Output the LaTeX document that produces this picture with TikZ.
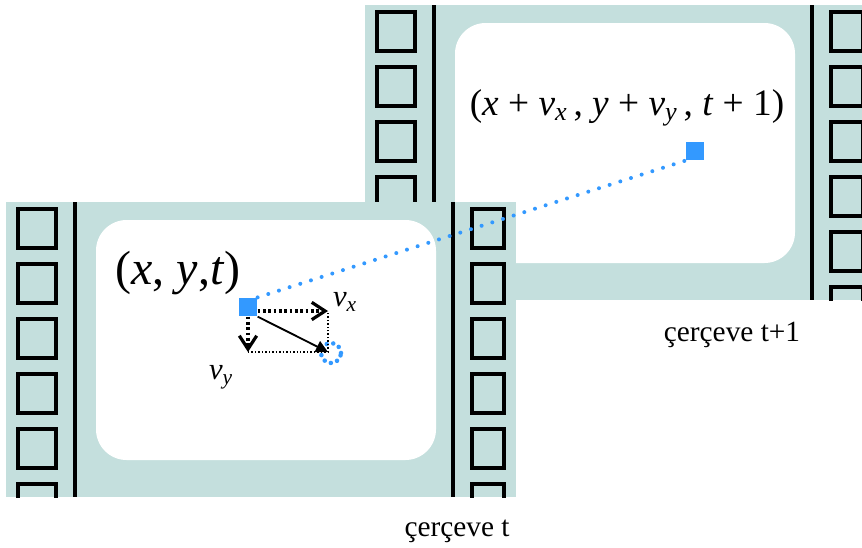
\documentclass[tikz,border=0pt]{standalone}
\usepackage{fontspec}
\setmainfont{Liberation Serif}
\usepackage{xcolor}
\usetikzlibrary{arrows.meta,positioning,calc}
\definecolor{filmteal}{HTML}{C4DFDD}
\definecolor{pixblue}{HTML}{3399FF}
\tikzset{
  filmbase/.style={fill=filmteal},
  filmhole/.style={draw=black, line width=3pt},
  filmedge/.style={draw=black, line width=3.4pt},
  screenbox/.style={fill=white, rounded corners=23pt},
  pixelbox/.style={rectangle, fill=pixblue, minimum size=14pt, inner sep=0pt},
  trackline/.style={draw=pixblue, line width=3pt,
    dash pattern=on 0pt off 8.4pt, line cap=round},
  compvec/.style={line width=2.6pt, dash pattern=on 2pt off 2pt,
    -{Straight Barb[length=10pt, width=13pt, line width=2.4pt]}},
  guideline/.style={line width=1.1pt, dash pattern=on 1.1pt off 1.5pt},
  flowvec/.style={line width=1.4pt, -{Triangle[length=9pt, width=9pt]}},
  landing/.style={circle, draw=pixblue, line width=3.4pt,
    dash pattern=on 0pt off 5pt, line cap=round,
    minimum size=15pt, inner sep=0pt},
  framelabel/.style={font=\fontsize{22}{26}\selectfont, inner sep=0pt},
  coordlabel/.style={font=\fontsize{#1}{#1}\selectfont, inner sep=0pt},
}

\begin{document}
\begin{tikzpicture}[x=0.75pt, y=-0.75pt]
  \useasboundingbox (0,0) rectangle (862,547);
  \clip (0,0) rectangle (862,547);
  % film frames, frame t+1 behind frame t
  \foreach \fx/\fy in {365/5, 6/202} {
    \begin{scope}
      \clip (\fx,\fy) rectangle ++(510,295);
      \fill[filmbase] (\fx,\fy) rectangle ++(510,295);
      \foreach \k in {0,...,5} {
        \draw[filmhole] (\fx+12,\fy+7+55*\k) rectangle ++(38,39);
        \draw[filmhole] (\fx+466,\fy+7+55*\k) rectangle ++(32,39);
      }
      \draw[filmedge] (\fx+69,\fy) -- ++(0,295);
      \draw[filmedge] (\fx+447,\fy) -- ++(0,295);
      \fill[screenbox] (\fx+90,\fy+18) rectangle ++(340,240);
    \end{scope}
  }
  % pixel and its motion
  \node[pixelbox] (pxt) at (248,307) {};
  \node[pixelbox] (pxt1) at (695,151) {};
  \draw[trackline] (pxt.north east) -- (pxt1.south west);
  \coordinate (vxtip) at (328,311);
  \coordinate (vytip) at (248,352);
  \coordinate (corner) at (328,352);
  \node[landing] (land) at (331,353) {};
  \draw[compvec] (pxt.east |- vxtip) -- (vxtip);
  \draw[compvec] (pxt.south) -- (vytip);
  \draw[guideline] (vytip) -- (corner) -- (vxtip);
  \draw[flowvec] (pxt.south east) -- (corner);
  % labels
  \node[coordlabel=23] (lvx) at (345,302) {\textit{v}\textsubscript{\textit{x}}};
  \node[coordlabel=23] (lvy) at (221,377) {\textit{v}\textsubscript{\textit{y}}};
  \node[coordlabel=36] (post) at (178,273) {(\textit{x}, \textit{y},\textit{t})};
  \node[coordlabel=28] (post1) at (627,108) {(\textit{x} + \textit{v}\textsubscript{\textit{x}}\,, \textit{y} + \textit{v}\textsubscript{\textit{y}}\,, \textit{t} + 1)};
  \node[framelabel] (capt) at (457,531) {çerçeve t};
  \node[framelabel] (capt1) at (732,335) {çerçeve t+1};
\end{tikzpicture}
\end{document}
